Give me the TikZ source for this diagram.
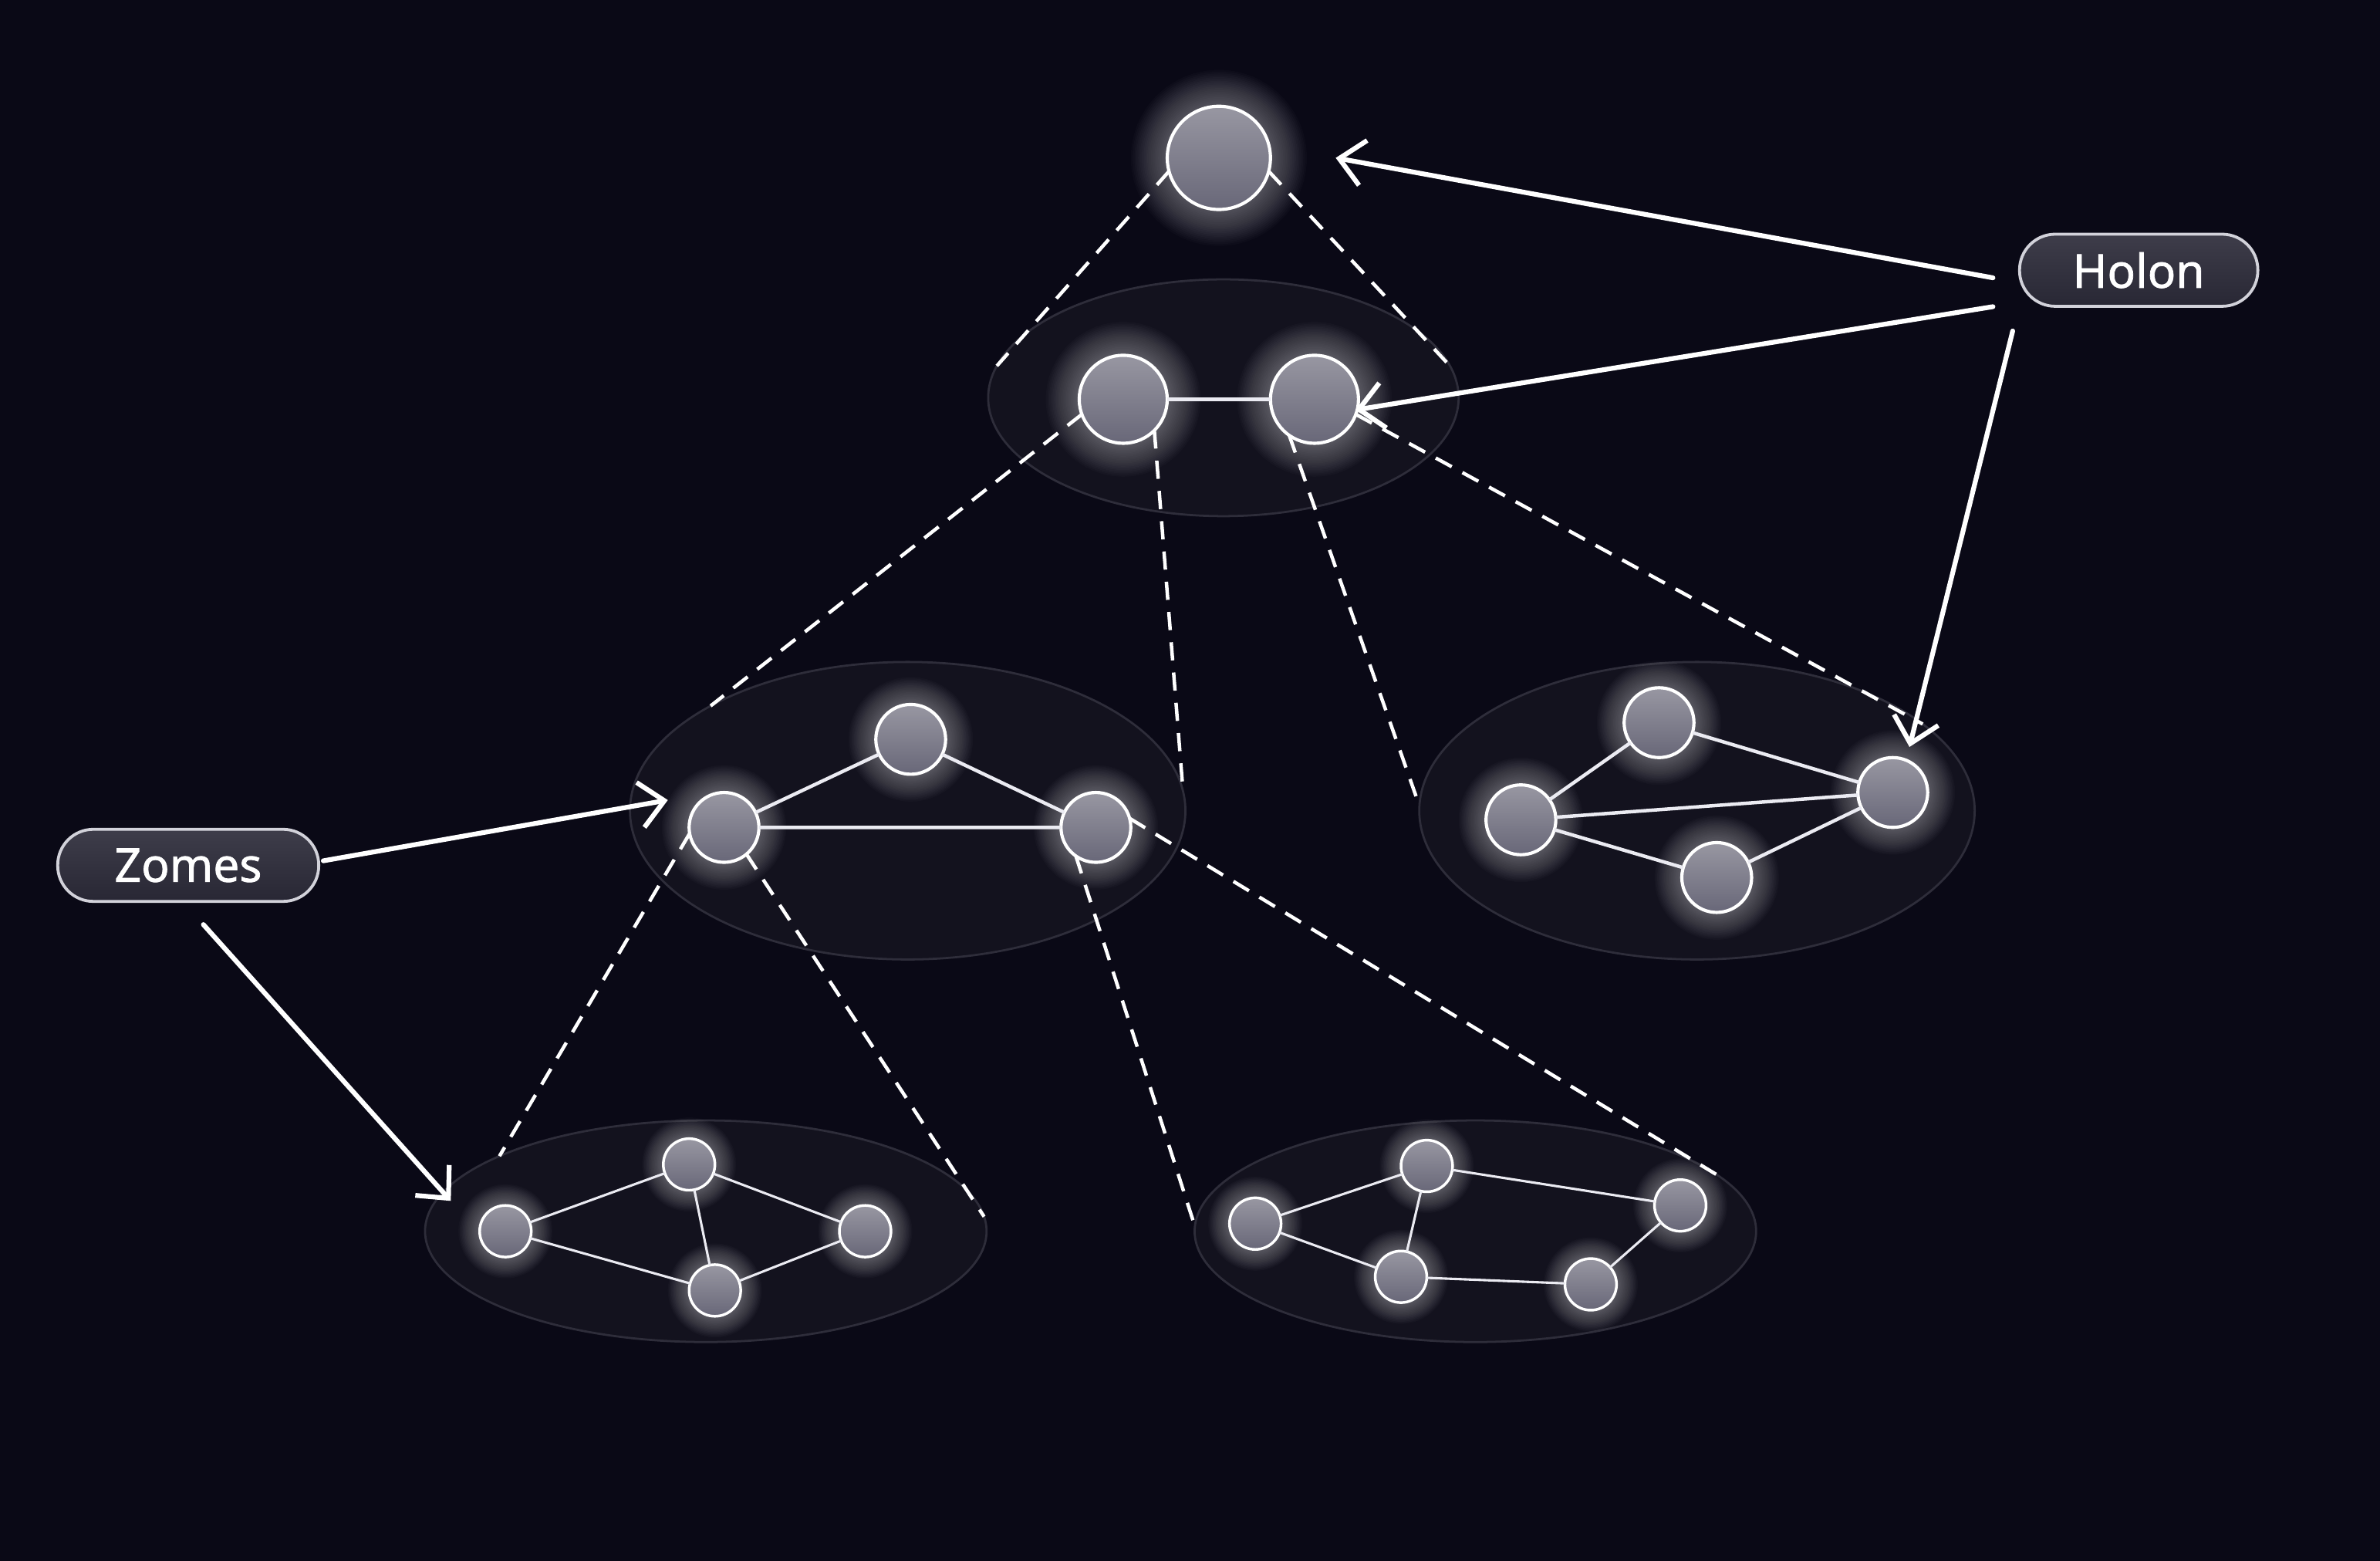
\documentclass[tikz,border=0pt]{standalone}
\usepackage{fontspec}
\setmainfont{Noto Sans}
\newfontfamily\lblfont[FakeBold=1.2]{Noto Sans}
\usetikzlibrary{arrows.meta,shapes.geometric}
\definecolor{bgc}{RGB}{10,9,22}
\definecolor{ellfill}{RGB}{19,18,30}
\definecolor{elldraw}{RGB}{46,45,58}
\definecolor{ntop}{RGB}{152,151,162}
\definecolor{nbot}{RGB}{104,103,120}
\definecolor{lbltop}{RGB}{62,61,74}
\definecolor{lblbot}{RGB}{40,39,52}
\definecolor{lbldraw}{RGB}{210,210,218}
\definecolor{edgec}{RGB}{235,235,242}
\pgfdeclarelayer{back}
\pgfdeclarelayer{mid}
\pgfsetlayers{back,mid,main}
\newcommand{\glowaround}[3]{%
  \foreach \k in {1,...,20}{\fill[white,opacity=0.02] (#1) circle ({#2+#3*\k});}}
\begin{document}
\begin{tikzpicture}[x=0.02cm,y=-0.02cm,
  dot/.style={circle, draw=white, line width=1.2pt, top color=ntop, bottom color=nbot, inner sep=0pt, outer sep=0pt},
  dotA/.style={dot, minimum size=1.36cm},
  dotB/.style={dot, minimum size=1.16cm},
  dotC/.style={dot, minimum size=0.92cm},
  dotD/.style={dot, minimum size=0.68cm, line width=1pt},
  grp/.style={ellipse, fill=ellfill, draw=elldraw, line width=0.8pt, inner sep=0pt, outer sep=0pt},
  edgeC/.style={edgec, line width=1.3pt},
  edgeD/.style={edgec, line width=0.9pt},
  dsh/.style={white, line width=1.3pt, dash pattern=on 0.24cm off 0.16cm},
  arr/.style={white, line width=1.8pt, line cap=round, -{Straight Barb[length=0.32cm,width=0.6cm,line width=1.8pt]}},
  lbl/.style={rounded corners=0.47cm, draw=lbldraw, line width=1.1pt, top color=lbltop, bottom color=lblbot, text=white, minimum height=0.95cm, inner sep=0pt, font=\lblfont\fontsize{17.5pt}{20pt}\selectfont}
]
\begin{pgfonlayer}{back}
\fill[bgc] (0,0) rectangle (1568,1028);
\node[grp, minimum width=6.2cm, minimum height=3.12cm] (g2) at (806,262) {};
\node[grp, minimum width=7.32cm, minimum height=3.92cm] (g3a) at (598,534) {};
\node[grp, minimum width=7.32cm, minimum height=3.92cm] (g3b) at (1118,534) {};
\node[grp, minimum width=7.4cm, minimum height=2.92cm] (g4a) at (465,811) {};
\node[grp, minimum width=7.4cm, minimum height=2.92cm] (g4b) at (972,811) {};
\end{pgfonlayer}
\useasboundingbox (0,0) rectangle (1568,1028);

% nodes
\node[dotA] (top) at (803,104) {};
\node[dotB] (b1) at (740,263) {};
\node[dotB] (b2) at (866,263) {};
\node[dotC] (c1) at (600,487) {};
\node[dotC] (c2) at (477,545) {};
\node[dotC] (c3) at (722,545) {};
\node[dotC] (r1) at (1093,476) {};
\node[dotC] (r2) at (1002,540) {};
\node[dotC] (r3) at (1247,522) {};
\node[dotC] (r4) at (1131,578) {};
\node[dotD] (d1) at (333,811) {};
\node[dotD] (d2) at (454,767) {};
\node[dotD] (d3) at (570,811) {};
\node[dotD] (d4) at (471,850) {};
\node[dotD] (e1) at (827,806) {};
\node[dotD] (e2) at (940,768) {};
\node[dotD] (e3) at (1107,794) {};
\node[dotD] (e4) at (923,841) {};
\node[dotD] (e5) at (1048,846) {};

% glows and dashed projections
\begin{pgfonlayer}{mid}
\glowaround{top}{34}{1.2}
\glowaround{b1}{29}{1.1}\glowaround{b2}{29}{1.1}
\foreach \n in {c1,c2,c3,r1,r2,r3,r4}{\glowaround{\n}{23}{0.9}}
\foreach \n in {d1,d2,d3,d4,e1,e2,e3,e4,e5}{\glowaround{\n}{17}{0.7}}
\draw[dsh] (top.195) -- (g2.172);
\draw[dsh] (top.-15) -- (g2.8);
\draw[dsh] (b1.200) -- (g3a.152);
\draw[dsh] (b1.-45) -- (g3a.4);
\draw[dsh] (b2.-125) -- (g3b.179);
\draw[dsh] (b2.-20) -- (g3b.21);
\draw[dsh] (c2.190) -- (g4a.160);
\draw[dsh] (c2.-50) -- (g4a.3);
\draw[dsh] (c3.235) -- (g4b.179);
\draw[dsh] (c3.15) -- (g4b.13);
\end{pgfonlayer}

% edges
\draw[edgec, line width=1.5pt] (b1) -- (b2);
\draw[edgeC] (c2) -- (c1) -- (c3) -- (c2);
\draw[edgeC] (r2) -- (r1) -- (r3) -- (r2);
\draw[edgeC] (r2) -- (r4) -- (r3);
\draw[edgeD] (d1) -- (d2) -- (d3) -- (d4) -- (d1);
\draw[edgeD] (d2) -- (d4);
\draw[edgeD] (e1) -- (e2) -- (e3) -- (e5) -- (e4) -- (e1);
\draw[edgeD] (e2) -- (e4);

% labels
\node[lbl, minimum width=3.14cm] (holon) at (1409,178) {Holon};
\node[lbl, minimum width=3.44cm] (zomes) at (124,570) {Zomes};

% arrows
\coordinate (hs1) at (1313,183);
\coordinate (hs2) at (1313,202);
\coordinate (hs3) at (1326,218);
\coordinate (ht1) at (880,104);
\coordinate (ht2) at (893,270);
\coordinate (ht3) at (1258,492);
\coordinate (zs1) at (213,567);
\coordinate (zs2) at (134,609);
\coordinate (zt1) at (440,527);
\coordinate (zt2) at (297,791);
\draw[arr] (hs1) -- (ht1);
\draw[arr] (hs2) -- (ht2);
\draw[arr] (hs3) -- (ht3);
\draw[arr] (zs1) -- (zt1);
\draw[arr] (zs2) -- (zt2);
\end{tikzpicture}
\end{document}
